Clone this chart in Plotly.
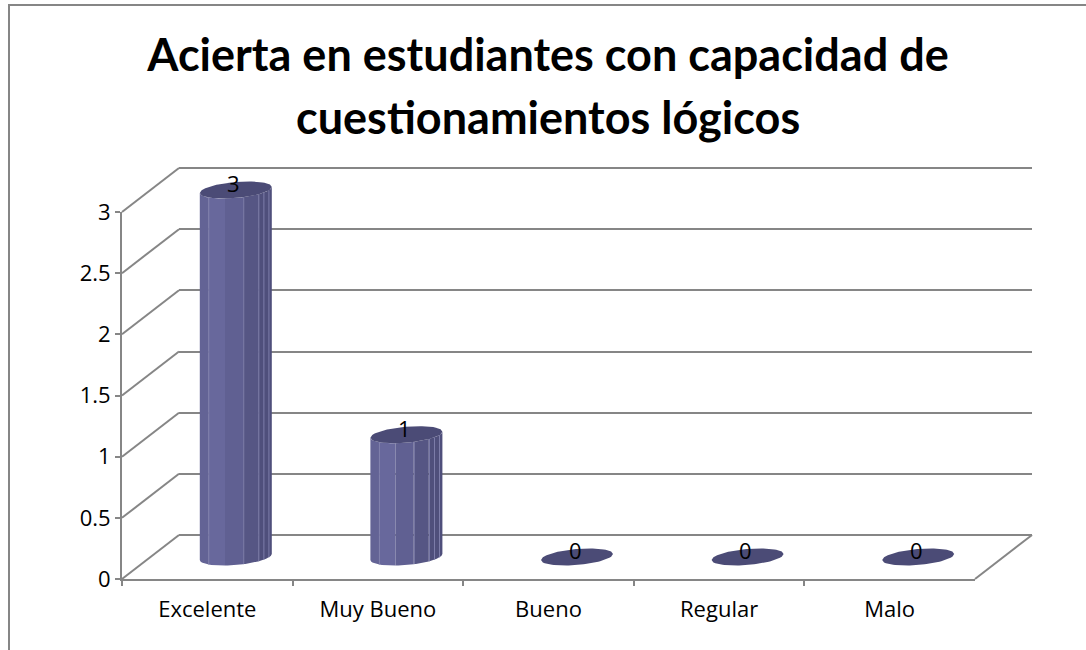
import numpy as np
import plotly.graph_objects as go

categories = ["Excelente", "Muy Bueno", "Bueno", "Regular", "Malo"]
values = [3, 1, 0, 0, 0]
y_ticks = [0, 0.5, 1, 1.5, 2, 2.5, 3]
y_labels = ["0", "0.5", "1", "1.5", "2", "2.5", "3"]
title_lines = ["Acierta en estudiantes con capacidad de", "cuestionamientos lógicos"]

W, H = 1086, 650
FRONT_L, FRONT_R, FRONT_T, FRONT_B = 122, 975, 212, 579
DEPTH_X, DEPTH_Y = 57, 44
GRID = "#868686"
TITLE_FONT = "Lato"
TEXT_FONT = "Open Sans"


def dom_x(a, b):
    return [a / W, b / W]


def dom_y(t, b):
    return [1 - b / H, 1 - t / H]


PX_X = (FRONT_R - FRONT_L) / len(categories)
PX_Y = (FRONT_B - FRONT_T) / max(y_ticks)
RX, RY, TILT = 36 / PX_X, 8 / PX_Y, 3 / PX_Y


def page_x_range(left_px):
    """x range of a full-page axis whose category edge -0.5 sits at left_px."""
    return [-0.5 - left_px / PX_X, -0.5 + (W - left_px) / PX_X]


def page_y_range(base_px):
    """y range of a full-page axis whose value 0 sits at base_px."""
    return [(base_px - H) / PX_Y, base_px / PX_Y]


fig = go.Figure()

# diagonal lines on the side wall and the floor, on a full-page copy of the front axes
side_x, side_y = [], []
for v in y_ticks:
    side_x += [-0.5, -0.5 + DEPTH_X / PX_X, None]
    side_y += [v, v + DEPTH_Y / PX_Y, None]
side_x += [len(categories) - 0.5, len(categories) - 0.5 + DEPTH_X / PX_X, None]
side_y += [0, DEPTH_Y / PX_Y, None]
fig.add_trace(go.Scatter(x=side_x, y=side_y, mode="lines", xaxis="x4", yaxis="y4",
                         line=dict(color=GRID, width=2),
                         showlegend=False, hoverinfo="skip"))

# back wall gridlines carried by an invisible trace
fig.add_trace(go.Scatter(x=[0], y=[0], mode="markers", marker=dict(opacity=0),
                         xaxis="x2", yaxis="y2", showlegend=False, hoverinfo="skip"))

# front axes with the labels
fig.add_trace(go.Bar(x=categories, y=values, xaxis="x", yaxis="y", opacity=0,
                     showlegend=False, hoverinfo="skip"))


def front_arc(t):
    return -RY * np.sqrt(np.clip(1 - t ** 2, 0, 1)) + TILT * t


def back_arc(t):
    return RY * np.sqrt(np.clip(1 - t ** 2, 0, 1)) + TILT * t


STRIPES = [(-1.0, -0.75, "#636395"), (-0.75, -0.3, "#68689c"), (-0.3, 0.2, "#606092"),
           (0.2, 0.62, "#565684"), (0.62, 1.0, "#4f4f7b")]
SEPARATORS = [-0.75, 0.22, 0.64, 0.78, 0.92]

for i, v in enumerate(values):
    if v > 0:
        for t0, t1, col in STRIPES:
            t = np.linspace(t0, t1, 14)
            xs = np.concatenate([i + RX * t, i + RX * t[::-1]])
            ys = np.concatenate([v + front_arc(t), front_arc(t[::-1])])
            fig.add_trace(go.Scatter(x=xs, y=ys, mode="lines", fill="toself", fillcolor=col,
                                     line=dict(width=0, color=col), xaxis="x3", yaxis="y3",
                                     showlegend=False, hoverinfo="skip"))
        for s in SEPARATORS:
            fig.add_trace(go.Scatter(x=[i + RX * s] * 2,
                                     y=[v + front_arc(np.array(s)), front_arc(np.array(s))],
                                     mode="lines", line=dict(color="#7e7eaa", width=1),
                                     xaxis="x3", yaxis="y3", showlegend=False,
                                     hoverinfo="skip"))
    t = np.linspace(-1, 1, 40)
    xs = np.concatenate([i + RX * t, i + RX * t[::-1]])
    ys = np.concatenate([v + front_arc(t), v + back_arc(t[::-1])])
    fig.add_trace(go.Scatter(x=xs, y=ys, mode="lines", fill="toself", fillcolor="#4b4b76",
                             line=dict(width=0, color="#4b4b76"), xaxis="x3", yaxis="y3",
                             showlegend=False, hoverinfo="skip"))

annotations = [dict(x=i, y=v, xref="x3", yref="y3", text=str(v), showarrow=False, yshift=7, xshift=-2,
                    font=dict(family=TEXT_FONT, size=22, color="#000000"))
               for i, v in enumerate(values)]
annotations.append(dict(x=548 / W, y=1 - 117 / H, xref="paper", yref="paper", text=title_lines[1],
                        showarrow=False, xanchor="center", yanchor="middle",
                        font=dict(family=TITLE_FONT, size=45, color="#000000", weight="bold")))

hidden = dict(showticklabels=False, ticks="", showline=False, zeroline=False, showgrid=False)
page_x = [0, 1]
page_y = [0, 1]

fig.update_layout(
    width=W, height=H, autosize=False,
    margin=dict(l=0, r=0, t=0, b=0, autoexpand=False),
    paper_bgcolor="#ffffff", plot_bgcolor="rgba(0,0,0,0)",
    showlegend=False, barmode="overlay", hovermode=False,
    title=dict(text=title_lines[0], x=548 / W, y=1 - 55 / H, xanchor="center", yanchor="middle",
               xref="container", yref="container",
               font=dict(family=TITLE_FONT, size=45, color="#000000", weight="bold")),
    annotations=annotations,
    xaxis=dict(domain=dom_x(FRONT_L, FRONT_R), type="category", categoryorder="array",
               categoryarray=categories, range=[-0.5, len(categories) - 0.5],
               showline=True, linecolor=GRID, linewidth=2, ticks="outside", tickson="boundaries",
               ticklen=5, tickwidth=2, tickcolor=GRID, showgrid=False, zeroline=False,
               ticklabelstandoff=10,
               tickfont=dict(family=TEXT_FONT, size=22, color="#000000"), anchor="y"),
    yaxis=dict(domain=dom_y(FRONT_T, FRONT_B), range=[0, max(y_ticks)], tickvals=y_ticks, ticktext=y_labels,
               showline=True, linecolor=GRID, linewidth=2, ticks="outside",
               ticklen=5, tickwidth=2, tickcolor=GRID, showgrid=False, zeroline=False,
               tickfont=dict(family=TEXT_FONT, size=22, color="#000000"), anchor="x"),
    xaxis2=dict(domain=dom_x(FRONT_L + DEPTH_X, FRONT_R + DEPTH_X), range=[-0.5, len(categories) - 0.5],
                anchor="y2", **hidden),
    yaxis2=dict(domain=page_y, range=page_y_range(FRONT_B - DEPTH_Y), tickvals=y_ticks,
                showticklabels=False, ticks="", showline=False, zeroline=False, showgrid=True,
                gridcolor=GRID, gridwidth=2, anchor="x2"),
    xaxis3=dict(domain=page_x, range=page_x_range(FRONT_L + DEPTH_X / 2), anchor="y3", **hidden),
    yaxis3=dict(domain=page_y, range=page_y_range(FRONT_B - 22), anchor="x3", **hidden),
    xaxis4=dict(domain=page_x, range=page_x_range(FRONT_L), anchor="y4", **hidden),
    yaxis4=dict(domain=page_y, range=page_y_range(FRONT_B), anchor="x4", **hidden),
    shapes=[dict(type="line", xref="paper", yref="paper", x0=9 / W, x1=1, y0=1 - 5 / H, y1=1 - 5 / H,
                 line=dict(color=GRID, width=2), layer="below"),
            dict(type="line", xref="paper", yref="paper", x0=9 / W, x1=9 / W, y0=0, y1=1 - 4 / H,
                 line=dict(color=GRID, width=2), layer="below")],
)

fig.write_html("out.html", config={"displayModeBar": False},
               post_script="document.body.style.margin='0';")
